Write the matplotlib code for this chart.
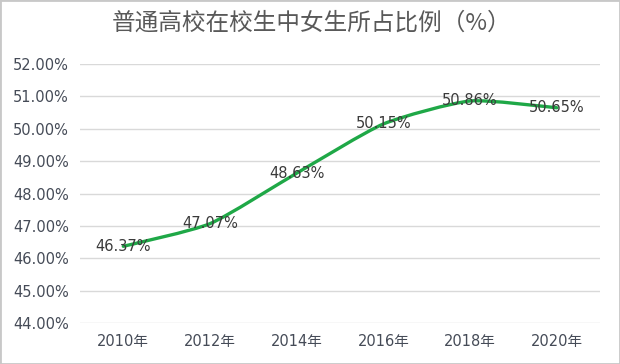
import matplotlib.pyplot as plt
from matplotlib.path import Path
from matplotlib.patches import PathPatch, Rectangle
import numpy as np

plt.rcParams['font.family'] = ['DejaVu Sans', 'Noto Sans CJK SC']

# 数据
years = ['2010年', '2012年', '2014年', '2016年', '2018年', '2020年']
ratio = [46.37, 47.07, 48.63, 50.15, 50.86, 50.65]
y_ticks = [44, 45, 46, 47, 48, 49, 50, 51, 52]
title = '普通高校在校生中女生所占比例（%）'

fig = plt.figure(figsize=(6.2, 3.64), dpi=100)
ax = fig.add_axes([0.129, 0.1126, 0.839, 0.7114])

# 平滑折线 (Catmull-Rom -> Bezier，张力小一点)
k = 10
x = np.arange(len(ratio), dtype=float)
y = np.array(ratio)
verts = [(x[0], y[0])]
codes = [Path.MOVETO]
for i in range(len(x) - 1):
    x0, y0 = (x[i - 1], y[i - 1]) if i > 0 else (x[i], y[i])
    x3, y3 = (x[i + 2], y[i + 2]) if i + 2 < len(x) else (x[i + 1], y[i + 1])
    c1 = (x[i] + (x[i + 1] - x0) / k, y[i] + (y[i + 1] - y0) / k)
    c2 = (x[i + 1] - (x3 - x[i]) / k, y[i + 1] - (y3 - y[i]) / k)
    verts += [c1, c2, (x[i + 1], y[i + 1])]
    codes += [Path.CURVE4] * 3
ax.add_patch(PathPatch(Path(verts, codes), facecolor='none',
                       edgecolor='#1fa847', lw=2.4, capstyle='round', zorder=3))

for xi, v in zip(x, ratio):
    ax.text(xi, v, f'{v:.2f}%', ha='center', va='center', fontsize=10.5,
            color='#3a3a3a', zorder=4)

ax.set_xlim(-0.5, len(years) - 0.5)
ax.set_ylim(44, 52)
ax.set_xticks(x)
ax.set_xticklabels(years)
ax.set_yticks(y_ticks)
ax.set_yticklabels([f'{t:.2f}%' for t in y_ticks])
ax.tick_params(length=0, labelsize=10.5, labelcolor='#454b57')
ax.tick_params(axis='y', pad=8)
ax.tick_params(axis='x', pad=8)
ax.grid(axis='y', color='#d9d9d9', lw=1)
ax.set_axisbelow(True)
for s in ax.spines.values():
    s.set_visible(False)

fig.text(0.502, 0.937, title, ha='center', va='center', fontsize=17,
         color='#595959', family=['Noto Sans CJK SC', 'DejaVu Sans'])

fig.patches.append(Rectangle((0, 0), 1, 1, transform=fig.transFigure,
                             fill=False, edgecolor='#c8c8c8', lw=2))

fig.savefig('out.png', dpi=100)
